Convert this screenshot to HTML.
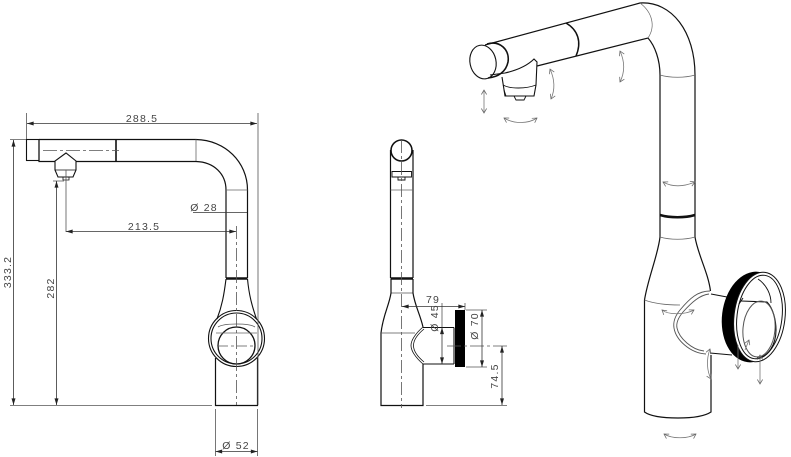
<!DOCTYPE html>
<html><head><meta charset="utf-8"><style>html,body{margin:0;padding:0;background:#fff}svg{display:block}text{font-family:"Liberation Sans",sans-serif;font-size:10.5px;fill:#444;letter-spacing:1.2px;text-anchor:middle}</style></head><body>
<svg width="791" height="457" viewBox="0 0 791 457" xmlns="http://www.w3.org/2000/svg">
<defs>
<marker id="o" viewBox="0 0 8 8" refX="7" refY="4" markerWidth="6" markerHeight="6" markerUnits="userSpaceOnUse" orient="auto-start-reverse"><path d="M1 .5L7 4L1 7.5" fill="none" stroke="#666" stroke-width="1"/></marker>
<marker id="f" viewBox="0 0 10 6" refX="10" refY="3" markerWidth="10" markerHeight="4" markerUnits="userSpaceOnUse" orient="auto-start-reverse"><path d="M0 0L10 3L0 6z" fill="#222"/></marker>
</defs>
<!-- LEFT VIEW -->
<g fill="none" stroke="#111" stroke-width="1.1">
<rect x="26.5" y="139.5" width="12.5" height="21"/>
<path d="M39 139.5H196C225 140 247.5 162 247.5 190V278M39 139.5V161.5H55M76 161.5H196C214 162 226 174 226 190V278" stroke-width="1.2"/>
<path d="M116 139.5V161.5" stroke-width="1.6"/>
<path d="M196 139.5V161M226 190H247.5" stroke="#666" stroke-width=".8"/>
<path d="M226 278.5H247.5" stroke-width="2.5"/>
<path d="M226 279C224 295 222 306 217 319M247.5 279C249 295 252 306 256.5 319"/>
<circle cx="236.5" cy="338.5" r="28"/><circle cx="236.5" cy="338.5" r="25.5"/>
<circle cx="236.5" cy="345.5" r="18.5" stroke-width="1.3"/>
<path d="M218 327C224 323 249 323 255 327" stroke="#555" stroke-width=".8"/>
<path d="M216 333H257" stroke="#666" stroke-width=".7"/>
<path d="M215.5 358V405.5H257.5V358" stroke-width="1.2"/>
<path d="M55 170V161L66 153L76 161V170L73 177H58Z"/>
<path d="M55 170H76M63 177V180H69V177" stroke-width=".8"/>
</g>
<g fill="none" stroke="#555" stroke-width=".8">
<path d="M43 150.5H119" stroke-dasharray="14 3 3 3"/>
<path d="M236.5 226V405" stroke-dasharray="13 3 3 3"/>
<path d="M218 346H255" stroke-dasharray="10 3 3 3"/>
<path d="M26.5 113V139M258 113V405M10 139.5H26M10 405.5H212M53 181H64M66 170V232M215.5 409V456M257.5 409V456"/>
</g>
<g fill="none" stroke="#333" stroke-width=".8">
<path d="M27 123.5H257" marker-start="url(#f)" marker-end="url(#f)"/>
<path d="M13.5 140V405" marker-start="url(#f)" marker-end="url(#f)"/>
<path d="M56.5 181V405" marker-start="url(#f)" marker-end="url(#f)"/>
<path d="M66 231.5H236" marker-start="url(#f)" marker-end="url(#f)"/>
<path d="M193 212.5H247"/>
<path d="M215.500 451.500H257.500" marker-start="url(#f)" marker-end="url(#f)"/>
</g>
<text x="142" y="122">288.5</text>
<text x="144" y="230">213.5</text>
<text x="204" y="211">Ø 28</text>
<text x="236" y="449">Ø 52</text>
<text transform="translate(11,272) rotate(-90)">333.2</text>
<text transform="translate(54,288) rotate(-90)">282</text>
<!-- SIDE VIEW -->
<g fill="none" stroke="#111" stroke-width="1.1">
<circle cx="401.5" cy="150.5" r="10.5" stroke-width="1.6"/>
<path d="M390.5 150V278M413 150V278" stroke-width="1.2"/>
<path d="M390.5 190H413" stroke="#666" stroke-width=".7"/>
<path d="M392 171.5H411.5V177H392ZM398 177V180H405V177" stroke-width=".9"/>
<path d="M390.5 278.5H413" stroke-width="2.5"/>
<path d="M390.5 293H413" stroke="#555" stroke-width=".8"/>
<path d="M391 279V293C389 306 383 315 381 333V405.5H423V364M413 279V293C415 306 420 314 423 327" stroke-width="1.2"/>
<path d="M381 333H415" stroke="#555" stroke-width=".7"/>
<path d="M423 327.5H454M423 364H454M454 327.5V364"/>
<path d="M423 327C416 333 411 340 411 345.5C411 351 416 358 423 364M424 329C418 334 413.5 340 413.5 345.5C413.5 351 418 357 424 362" stroke-width=".8"/>
</g>
<rect x="455" y="310" width="10" height="57" fill="#000"/>
<g fill="none" stroke="#555" stroke-width=".8">
<path d="M401.5 140V408" stroke-dasharray="13 3 3 3"/>
<path d="M447 346H507" stroke-dasharray="14 3 3 3"/>
<path d="M465 303V310M442 303V327M466 310H487M466 367H487M426 405.5H507"/>
</g>
<g fill="none" stroke="#333" stroke-width=".8">
<path d="M402 306.5H465" marker-start="url(#f)" marker-end="url(#f)"/>
<path d="M442 327.5V364" marker-start="url(#f)" marker-end="url(#f)"/>
<path d="M482 310V367" marker-start="url(#f)" marker-end="url(#f)"/>
<path d="M502 346V405" marker-start="url(#f)" marker-end="url(#f)"/>
</g>
<text x="433" y="303">79</text>
<text transform="translate(438,318) rotate(-90)">Ø 45</text>
<text transform="translate(478,326) rotate(-90)">Ø 70</text>
<text transform="translate(498,376) rotate(-90)">74.5</text>
<!-- 3D VIEW -->
<g fill="none" stroke="#111" stroke-width="1.1">
<path d="M485 45L640 3C672 1 695 32 695 75V215M537 66L648 38C655 46 660 60 660 75V215" stroke-width="1.2"/>
<path d="M640 3C652 12 656 26 648 38M660 75C670 78 685 78 695 75" stroke="#666" stroke-width=".7"/>
<path d="M566 23C578 30 582 42 576 56" stroke-width="1.5"/>
<ellipse cx="483" cy="62" rx="13" ry="17" transform="rotate(-12 483 62)"/>
<path d="M487 44C500 40 510 50 508 62C506 72 498 77 488 78" stroke-width="1.6"/>
<path d="M490 75L505 73C518 70 528 65 534 59L537 62L536 85L534 96H505L502 77"/>
<path d="M503 85C510 89 526 89 536 85M504 90L506 96H514L516 100H524L526 96H533" stroke-width=".9"/>
<path d="M660 215C670 218 685 218 695 215" stroke-width="2.5"/>
<path d="M660 215V237C658 255 648 278 644.5 300V412C650 416 660 418 678 418C695 418 705 416 711 412V355M695 215V237C698 255 708 272 710.5 291" stroke-width="1.2"/>
<path d="M660 237C670 240 685 240 695 237M644.5 300C655 304 668 305 680 305" stroke="#666" stroke-width=".8"/>
<path d="M710 291C698 291 690 298 680 310C675 316 673 322 674 328C676 340 690 353 706 354" stroke="#555" stroke-width=".9"/>
<path d="M709 294C700 295 692 302 683 312C678 318 676 323 677 328C679 338 692 350 704 351" stroke="#555" stroke-width=".9"/>
<path d="M711 294L727 297M710 353L732 355"/>
</g>
<ellipse cx="753" cy="317" rx="31" ry="45.500" fill="#000" transform="rotate(7 753 317)"/>
<ellipse cx="759.500" cy="317" rx="25.500" ry="45" fill="#fff" stroke="#111" stroke-width="1" transform="rotate(7 759.500 317)"/>
<ellipse cx="759.500" cy="317" rx="22.500" ry="42" fill="none" stroke="#111" stroke-width="1" transform="rotate(7 759.500 317)"/>
<g fill="none" stroke="#111" stroke-width="1">
<path d="M741 301L767 302C773 308 776 320 776 330C776 345 768 357 757 358" stroke-width="1.1"/>
<path d="M758 279C767 285 771 295 771 303" stroke-width=".9"/>
<ellipse cx="759" cy="329" rx="16" ry="28" stroke="#555" transform="rotate(5 759 329)"/>
<path d="M739 304L743 298" stroke-width="1"/>
</g>
<g fill="none" stroke="#777" stroke-width=".8">
<path d="M484 90V113" marker-start="url(#o)" marker-end="url(#o)"/>
<path d="M504 118C514 124 528 124 537 118" marker-start="url(#o)" marker-end="url(#o)"/>
<path d="M550 69C555 80 555 90 551 99" marker-start="url(#o)" marker-end="url(#o)"/>
<path d="M620 51C625 62 625 72 620 82" marker-start="url(#o)" marker-end="url(#o)"/>
<path d="M663 182C672 187 683 187 695 182" marker-start="url(#o)" marker-end="url(#o)"/>
<path d="M662 310C668 315 685 315 694 310" marker-start="url(#o)" marker-end="url(#o)"/>
<path d="M710 349C706 360 707 371 711 379" marker-start="url(#o)" marker-end="url(#o)"/>
<path d="M738 345V369" marker-end="url(#o)"/>
<path d="M760 355V384" marker-start="url(#o)" marker-end="url(#o)"/>
<path d="M745 350L749 340" marker-end="url(#o)"/>
<path d="M664 434C672 439 688 439 696 434" marker-start="url(#o)" marker-end="url(#o)"/>
</g>
</svg>
</body></html>
